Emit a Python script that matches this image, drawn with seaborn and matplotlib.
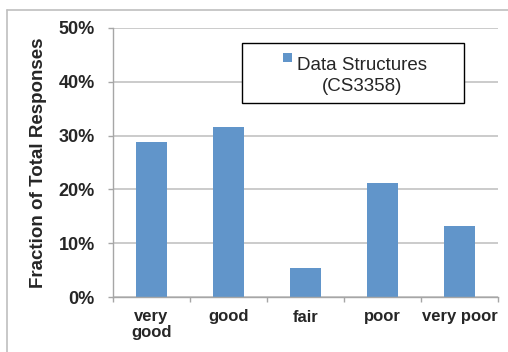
import matplotlib
matplotlib.use("Agg")
import matplotlib.pyplot as plt
import seaborn as sns
import pandas as pd
from matplotlib.ticker import FuncFormatter, FixedLocator
from matplotlib.patches import Rectangle
from matplotlib.lines import Line2D
from matplotlib.legend_handler import HandlerPatch

categories = ["very\ngood", "good", "fair", "poor", "very poor"]
values = [0.289, 0.316, 0.053, 0.211, 0.132]
series_name = "Data Structures\n(CS3358)"
yticks = [0.0, 0.1, 0.2, 0.3, 0.4, 0.5]

sns.set_theme(style="white")
plt.rcParams["font.family"] = ["Liberation Sans", "DejaVu Sans"]

W, H = 508, 352
fig = plt.figure(figsize=(W / 100, H / 100), dpi=100)
fig.patch.set_facecolor("white")
ax = fig.add_axes([113 / W, 55 / H, (498 - 113) / W, (297 - 28) / H])

df = pd.DataFrame({"cat": categories, "val": values})
bar_color = "#6195CA"
sns.barplot(data=df, x="cat", y="val", color=bar_color, width=0.39,
            saturation=1, ax=ax, edgecolor="none")

ax.set_xlim(-0.5, len(categories) - 0.5)
ax.set_ylim(0, 0.5)
ax.yaxis.set_major_locator(FixedLocator(yticks))
ax.yaxis.set_major_formatter(FuncFormatter(lambda v, p: f"{v*100:.0f}%"))
ax.grid(axis="y", color="#BDBDBD", linewidth=1.1)
ax.set_axisbelow(True)

for s in ["top", "right"]:
    ax.spines[s].set_visible(False)
for s in ["left", "bottom"]:
    ax.spines[s].set_color("#A6A6A6")
    ax.spines[s].set_linewidth(1.0)

ax.tick_params(axis="y", which="major", length=3.6, width=1, color="#A6A6A6",
               pad=9.5, labelsize=13, direction="out", left=True)
for t in ax.get_yticklabels():
    t.set_fontweight("bold")
ax.set_xticks(range(len(categories)))
ax.set_xticklabels(categories, fontweight="bold", fontsize=12, linespacing=1.05)
ax.tick_params(axis="x", which="major", length=0, pad=9)
ax.set_xticks([i - 0.5 for i in range(len(categories) + 1)], minor=True)
ax.tick_params(axis="x", which="minor", length=3.6, width=1, color="#A6A6A6",
               direction="out", bottom=True)
for t in ax.get_xticklabels():
    t.set_verticalalignment("top")

ax.set_xlabel("")
ax.set_ylabel("Fraction of Total Responses", fontsize=13.5, fontweight="bold",
              labelpad=8)


def make_square(legend, orig_handle, xdescent, ydescent, width, height, fontsize):
    size = 6.5
    return Rectangle((-xdescent, -ydescent + height + 6.0), size, size)


# legend box (white, black border) drawn beneath the legend entries
box = Rectangle((242 / W, 1 - 103 / H), (464 - 242) / W, 60 / H,
                transform=fig.transFigure, facecolor="white",
                edgecolor="black", linewidth=1.0, zorder=4, clip_on=False)
ax.add_patch(box)

leg = ax.legend(handles=[ax.patches[0]], labels=[series_name],
                loc="center", bbox_to_anchor=(355 / W, 1 - 76 / H),
                bbox_transform=fig.transFigure, frameon=False, fontsize=13.5,
                handlelength=0.48, handleheight=0.5, handletextpad=0.3,
                borderpad=0.0, borderaxespad=0,
                handler_map={Rectangle: HandlerPatch(patch_func=make_square)})
for t in leg.get_texts():
    t.set_multialignment("center")
    t.set_linespacing(1.3)
leg.set_zorder(6)

# chart area border
fig.add_artist(Line2D([7 / W, 7 / W], [0, 1 - 10 / H], transform=fig.transFigure,
                      color="#BFBFBF", linewidth=1.2))
fig.add_artist(Line2D([7 / W, 1], [1 - 10 / H, 1 - 10 / H], transform=fig.transFigure,
                      color="#BFBFBF", linewidth=1.2))

fig.savefig("out.png", dpi=100, facecolor="white")
